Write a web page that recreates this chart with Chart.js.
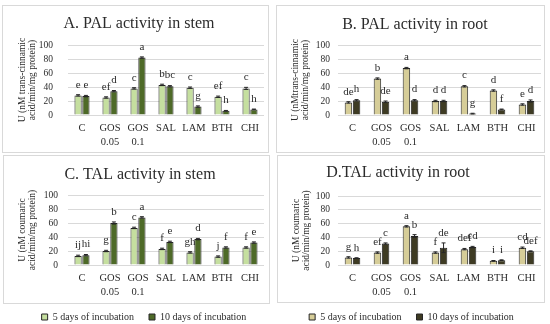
<!DOCTYPE html>
<html><head><meta charset="utf-8">
<script src="https://cdn.jsdelivr.net/npm/chart.js@4.4.1/dist/chart.umd.min.js"></script>
<style>
html,body{margin:0;padding:0;background:#fff;overflow:hidden;width:550px;height:324px;}
.wrap{position:absolute;}
.border{position:absolute;border:1px solid #d9d9d9;box-sizing:border-box;pointer-events:none;}
canvas{display:block;}
</style></head><body>
<div class="wrap" style="left:2px;top:5px;width:267px;height:148px"><canvas id="cA"></canvas></div>
<div class="border" style="left:2px;top:5px;width:267px;height:148px"></div>
<div class="wrap" style="left:276px;top:5px;width:269px;height:148px"><canvas id="cB"></canvas></div>
<div class="border" style="left:276px;top:5px;width:269px;height:148px"></div>
<div class="wrap" style="left:3px;top:155px;width:267px;height:183px"><canvas id="cC"></canvas></div>
<div class="border" style="left:3px;top:155px;width:267px;height:149px"></div>
<div class="wrap" style="left:277px;top:155px;width:268px;height:183px"><canvas id="cD"></canvas></div>
<div class="border" style="left:277px;top:155px;width:268px;height:148px"></div>
<script>
// ---- data ----
const categories = ['C', ['GOS', '0.05'], ['GOS', '0.1'], 'SAL', 'LAM', 'BTH', 'CHI'];
const seriesNames = ['5 days of incubation', '10 days of incubation'];
const yTicks = [0, 20, 40, 60, 80, 100];

const titleA = 'A. PAL activity in stem';
const yTitleA = ['U (nM trans-cinnamic', 'acid/min/mg protein)'];
const palStem5 = [28, 25, 38, 43, 39, 26, 38];
const palStem10 = [27, 34, 82, 41, 12, 6, 8];
const palStem5Err = [1, 1, 1, 1, 1, 1, 1.5];
const palStem10Err = [1, 1, 1, 1, 1, 0.5, 0.5];
const palStem5Letters = ['e', 'ef', 'c', 'b', 'c', 'ef', 'c'];
const palStem10Letters = ['e', 'd', 'a', 'bc', 'g', 'h', 'h'];

const titleB = 'B. PAL activity in root';
const yTitleB = ['U (nMtrans-cinnamic', 'acid/min/mg protein)'];
const palRoot5 = [18, 52, 67, 20, 41, 35, 15];
const palRoot10 = [21, 19, 21, 20, 2, 8, 20];
const palRoot5Err = [1, 1, 1, 1, 1, 1, 1];
const palRoot10Err = [1, 1, 1, 1, 0.5, 0.5, 1.5];
const palRoot5Letters = ['de', 'b', 'a', 'd', 'c', 'd', 'e'];
const palRoot10Letters = ['h', 'de', 'd', 'd', 'g', 'f', 'd'];

const titleC = 'C. TAL activity in stem';
const yTitleC = ['U (nM coumaric', 'acid/min/mg protein)'];
const talStem5 = [13, 20, 53, 23, 18, 12, 25];
const talStem10 = [14, 60, 68, 33, 37, 25, 32];
const talStem5Err = [1, 1, 1, 1, 1, 1, 1];
const talStem10Err = [1, 1.5, 1, 1, 1, 1, 1];
const talStem5Letters = ['ij', 'g', 'c', 'f', 'gh', 'j', 'f'];
const talStem10Letters = ['hi', 'b', 'a', 'e', 'd', 'f', 'e'];

const titleD = 'D.TAL activity in root';
const yTitleD = ['U (nM coumaric', 'acid/min/mg protein)'];
const talRoot5 = [11, 18, 56, 18, 23, 6, 25];
const talRoot10 = [10, 31, 42, 25, 26, 7, 20];
const talRoot5Err = [1, 1, 1, 1, 1, 0.5, 1];
const talRoot10Err = [0.5, 1, 2, 7, 1, 0.5, 0.5];
const talRoot5Letters = ['g', 'ef', 'a', 'f', 'def', 'i', 'cd'];
const talRoot10Letters = ['h', 'c', 'b', 'de', 'cd', 'i', 'def'];

// ---- styles ----
const SERIF = "'Liberation Serif', 'Times New Roman', serif";
const TEXT = '#2b2b2b';
const GRID = '#d9d9d9';
const EDGE = '#262626';
const greens = ['#c5df9f', '#4e6a28'];
const tans = ['#d6cd98', '#3e3b23'];

function annotPlugin(letters, errs) {
  return {
    id: 'annot',
    afterDatasetsDraw(chart) {
      const ctx = chart.ctx, ys = chart.scales.y;
      chart.data.datasets.forEach((ds, di) => {
        const meta = chart.getDatasetMeta(di);
        meta.data.forEach((bar, i) => {
          const v = ds.data[i], e = errs[di][i];
          const yT = ys.getPixelForValue(v + e), yB = ys.getPixelForValue(v - e);
          ctx.save();
          ctx.strokeStyle = EDGE; ctx.lineWidth = 1;
          ctx.beginPath();
          ctx.moveTo(bar.x, yT); ctx.lineTo(bar.x, yB);
          ctx.moveTo(bar.x - 2, yT); ctx.lineTo(bar.x + 2, yT);
          ctx.moveTo(bar.x - 2, yB); ctx.lineTo(bar.x + 2, yB);
          ctx.stroke();
          ctx.fillStyle = TEXT;
          ctx.font = '11px ' + SERIF;
          ctx.textAlign = 'center'; ctx.textBaseline = 'middle';
          ctx.fillText(letters[di][i], bar.x, yT - 10);
          ctx.restore();
        });
      });
    }
  };
}

function shiftPlugin(titleDx, legendDx, legendCenterY) {
  return {
    id: 'shift',
    afterLayout(chart) {
      const t = chart.titleBlock;
      if (t) { t.left += titleDx; t.right += titleDx; }
      const lg = chart.legend;
      if (lg && lg.options.display) {
        const pad = lg.options.labels.padding;
        const cur = lg.top + pad + 3;
        const dy = legendCenterY - cur;
        lg.left += legendDx; lg.right += legendDx;
        lg.top += dy; lg.bottom += dy;
      }
    }
  };
}

function makeChart(id, cfg) {
  const ds = [
    { label: seriesNames[0], data: cfg.s5, backgroundColor: cfg.colors[0], borderColor: EDGE, borderWidth: 1,
      categoryPercentage: 0.56, barPercentage: 0.92 },
    { label: seriesNames[1], data: cfg.s10, backgroundColor: cfg.colors[1], borderColor: EDGE, borderWidth: 1,
      categoryPercentage: 0.56, barPercentage: 0.92 }
  ];
  return new Chart(document.getElementById(id), {
    type: 'bar',
    data: { labels: categories, datasets: ds },
    options: {
      responsive: true, maintainAspectRatio: false, animation: false,
      layout: { padding: { left: 0, right: cfg.padR, top: 0, bottom: 0 } },
      plugins: {
        title: { display: true, text: cfg.title, color: TEXT,
          font: { family: SERIF, size: 16, weight: 'normal', lineHeight: 1.2 },
          padding: { top: cfg.tTop, bottom: cfg.tBot } },
        legend: { display: cfg.legend, position: 'bottom',
          labels: { boxWidth: 6, boxHeight: 6, padding: 15, color: TEXT,
            font: { family: SERIF, size: 10 } } },
        tooltip: { enabled: false }
      },
      scales: {
        x: {
          grid: { display: false, drawTicks: false },
          border: { display: false },
          ticks: { color: TEXT, padding: 6, maxRotation: 0, autoSkip: false,
            font: { family: SERIF, size: 10.5, lineHeight: 1.35 } },
          afterFit(s) { s.height = 38; }
        },
        y: {
          min: 0, max: 100,
          afterBuildTicks(s) { s.ticks = yTicks.map(v => ({ value: v })); },
          grid: { color: GRID, drawTicks: false, lineWidth: 1 },
          border: { display: false },
          ticks: { color: TEXT, padding: cfg.tickPad, autoSkip: false, font: { family: SERIF, size: 9.5 } },
          title: { display: true, text: cfg.yTitle, color: TEXT,
            font: { family: SERIF, size: 9.5, lineHeight: 1.1 },
            padding: { top: cfg.ytPad, bottom: 0 } },
          afterFit(s) { s.width = cfg.yW; }
        }
      }
    },
    plugins: [annotPlugin(cfg.letters, cfg.errs), shiftPlugin(cfg.titleDx, cfg.legendDx || 0, cfg.legendY || 0)]
  });
}

makeChart('cA', { title: titleA, yTitle: yTitleA, s5: palStem5, s10: palStem10, colors: greens,
  letters: [palStem5Letters, palStem10Letters], errs: [palStem5Err, palStem10Err],
  padR: 5, yW: 66, tickPad: 15, ytPad: 14.8, tTop: 9.4, tBot: 11.4, titleDx: 6, legend: false });
makeChart('cB', { title: titleB, yTitle: yTitleB, s5: palRoot5, s10: palRoot10, colors: tans,
  letters: [palRoot5Letters, palRoot10Letters], errs: [palRoot5Err, palRoot10Err],
  padR: 4, yW: 62, tickPad: 8, ytPad: 13.8, tTop: 10.4, tBot: 10.4, titleDx: 6.5, legend: false });
makeChart('cC', { title: titleC, yTitle: yTitleC, s5: talStem5, s10: talStem10, colors: greens,
  letters: [talStem5Letters, talStem10Letters], errs: [talStem5Err, talStem10Err],
  padR: 6, yW: 65, tickPad: 10, ytPad: 13.8, tTop: 10.4, tBot: 10.4, titleDx: 6.5, legend: true,
  legendDx: 10.5, legendY: 160 });
makeChart('cD', { title: titleD, yTitle: yTitleD, s5: talRoot5, s10: talRoot10, colors: tans,
  letters: [talRoot5Letters, talRoot10Letters], errs: [talRoot5Err, talRoot10Err],
  padR: 4, yW: 61, tickPad: 8, ytPad: 13.8, tTop: 8.4, tBot: 13.4, titleDx: -11, legend: true,
  legendDx: 2.5, legendY: 160 });
</script>
</body></html>
